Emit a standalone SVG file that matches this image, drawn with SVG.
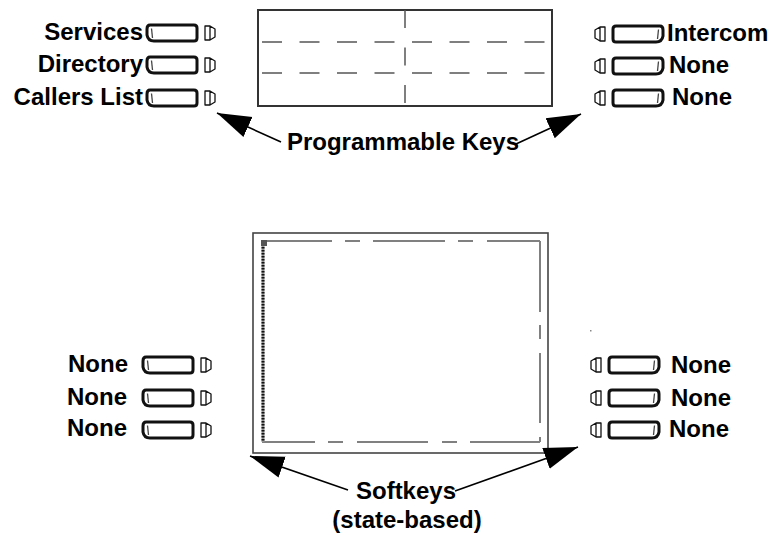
<svg xmlns="http://www.w3.org/2000/svg" xmlns:xlink="http://www.w3.org/1999/xlink" width="771" height="535" viewBox="0 0 771 535">
<style>
  .lbl { font-family: "Liberation Sans", Arial, Helvetica, sans-serif; font-weight: bold; font-size: 24px; fill: #000; }
  .btn { fill: #fff; stroke: #111; stroke-width: 3; stroke-linejoin: round; }
  .btnIn { fill: none; stroke: #444; stroke-width: 1.3; }
  .led { fill: #fff; stroke: #111; stroke-width: 1.3; stroke-linejoin: round; }
  .conn { fill: none; stroke: #000; stroke-width: 1.6; }
  .lcd { fill: #fff; stroke: #333; stroke-width: 2; }
  .grid { fill: none; stroke: #555; stroke-width: 1.5; }
  .inner { fill: none; stroke: #808080; stroke-width: 2; }
</style>
<defs>
  <marker id="ah" markerUnits="userSpaceOnUse" markerWidth="36" markerHeight="26" refX="34" refY="13" orient="auto">
    <path d="M0,2 L34,13 L0,24 Z" fill="#000"/>
  </marker>
  <g id="keyL">
    <path class="btn" d="M3,-8 H47 Q50,-8 50,-5 V5 Q50,8 47,8 H7 Q1,8 0,2 V-4 Q0,-8 3,-8 Z"/>
    <path class="btnIn" d="M4.5,-4.5 L5.5,5"/>
    <path class="led" d="M58,-7 H63 L68,-4 V4 L63,7 H58 Z M63,-7 V7"/>
  </g>
</defs>

<!-- top LCD -->
<g id="lcd-top">
  <rect class="lcd" x="258" y="10" width="294" height="96"/>
  <line class="grid" x1="405" y1="10" x2="405" y2="106" stroke-dasharray="18 19.5"/>
  <line class="grid" x1="262" y1="42" x2="546" y2="42" stroke-dasharray="20 17.5"/>
  <line class="grid" x1="262" y1="73" x2="546" y2="73" stroke-dasharray="20 17.5"/>
</g>

<!-- bottom LCD -->
<g id="lcd-bottom">
  <rect x="253" y="233" width="295" height="220" fill="#fff" stroke="#444" stroke-width="1.6"/>
  <path class="inner" d="M262,241 H332 M345,241 H360 M373,241 H445 M458,241 H473 M487,241 H540"/>
  <path class="inner" d="M540,241 V312 M540,325 V339 M540,353 V423 M540,437 V442"/>
  <path class="inner" d="M262,442 H315 M328,442 H343 M357,442 H428 M442,442 H457 M470,442 H540"/>
  <line x1="263" y1="241" x2="263" y2="442" stroke="#999" stroke-width="3"/>
  <line x1="263" y1="241" x2="263" y2="442" stroke="#111" stroke-width="3" stroke-dasharray="1.5 1.5"/>
  <rect x="261" y="240" width="6" height="6" fill="#555"/>
  <rect x="590" y="330" width="1.5" height="1.5" fill="#888"/>
</g>

<!-- top left keys -->
<g id="key-services">
  <text class="lbl" x="143" y="40" text-anchor="end">Services</text>
  <use href="#keyL" xlink:href="#keyL" transform="translate(147,33)"/>
</g>
<g id="key-directory">
  <text class="lbl" x="143" y="72" text-anchor="end">Directory</text>
  <use href="#keyL" xlink:href="#keyL" transform="translate(147,65)"/>
</g>
<g id="key-callers">
  <text class="lbl" x="143" y="105" text-anchor="end">Callers List</text>
  <use href="#keyL" xlink:href="#keyL" transform="translate(147,98)"/>
</g>

<!-- top right keys -->
<g id="key-intercom">
  <use href="#keyL" xlink:href="#keyL" transform="translate(663,34) scale(-1,1)"/>
  <text class="lbl" x="667" y="41">Intercom</text>
</g>
<g id="key-r2">
  <use href="#keyL" xlink:href="#keyL" transform="translate(663,66) scale(-1,1)"/>
  <text class="lbl" x="669" y="73">None</text>
</g>
<g id="key-r3">
  <use href="#keyL" xlink:href="#keyL" transform="translate(663,98) scale(-1,1)"/>
  <text class="lbl" x="672" y="105">None</text>
</g>

<!-- bottom left softkeys -->
<g id="soft-l1">
  <text class="lbl" x="68" y="372">None</text>
  <use href="#keyL" xlink:href="#keyL" transform="translate(143,365)"/>
</g>
<g id="soft-l2">
  <text class="lbl" x="67" y="405">None</text>
  <use href="#keyL" xlink:href="#keyL" transform="translate(143,398)"/>
</g>
<g id="soft-l3">
  <text class="lbl" x="67" y="436">None</text>
  <use href="#keyL" xlink:href="#keyL" transform="translate(143,430)"/>
</g>

<!-- bottom right softkeys -->
<g id="soft-r1">
  <use href="#keyL" xlink:href="#keyL" transform="translate(659,365) scale(-1,1)"/>
  <text class="lbl" x="671" y="373">None</text>
</g>
<g id="soft-r2">
  <use href="#keyL" xlink:href="#keyL" transform="translate(659,398) scale(-1,1)"/>
  <text class="lbl" x="671" y="406">None</text>
</g>
<g id="soft-r3">
  <use href="#keyL" xlink:href="#keyL" transform="translate(659,430) scale(-1,1)"/>
  <text class="lbl" x="669" y="437">None</text>
</g>

<!-- labels -->
<g id="label-programmable">
  <text class="lbl" x="403" y="150" text-anchor="middle">Programmable Keys</text>
</g>
<g id="label-softkeys">
  <text class="lbl" x="406" y="499" text-anchor="middle">Softkeys</text>
  <text class="lbl" x="407" y="528" text-anchor="middle">(state-based)</text>
</g>

<!-- connectors -->
<g id="connectors">
  <line class="conn" x1="281" y1="142" x2="217" y2="113" marker-end="url(#ah)"/>
  <line class="conn" x1="516" y1="144" x2="581" y2="114" marker-end="url(#ah)"/>
  <line class="conn" x1="348" y1="490" x2="250" y2="456" marker-end="url(#ah)"/>
  <line class="conn" x1="455" y1="491" x2="578" y2="447" marker-end="url(#ah)"/>
</g>
</svg>
